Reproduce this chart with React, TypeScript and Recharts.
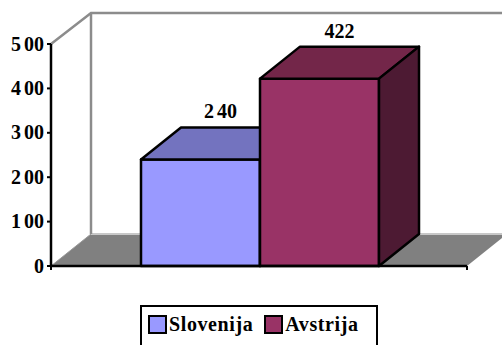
import { Bar, BarChart, LabelList, Legend, XAxis, YAxis } from "recharts"

const categories = [""];
const seriesNames = ["Slovenija", "Avstrija"];
const sloveniaValues = [240];
const austriaValues = [422];
const yTicks = [0, 100, 200, 300, 400, 500];

const frontColors = ["#9999ff", "#993366"];
const topColors = ["#7373bf", "#732649"];
const sideColors = ["#4d4d80", "#4d1a33"];

const rows = categories.map((name, i) => ({
  name,
  [seriesNames[0]]: sloveniaValues[i],
  [seriesNames[1]]: austriaValues[i],
}));

const DEPTH_X = 40;
const DEPTH_Y = 32;
const FONT = '"Liberation Serif", "Times New Roman", serif';

// left / right edges of the plot and its floor line
const LEFT = 51;
const RIGHT = 467;
const TOP = 44;
const BOTTOM = 266;
const LEGEND_HEIGHT = 46;
const LINE = 2.5;

// the back wall and the floor of the 3d box
const Backdrop = () => (
  <g>
    <polygon
      points={`${LEFT},${BOTTOM} ${LEFT + DEPTH_X},${BOTTOM - DEPTH_Y} ${RIGHT + DEPTH_X},${BOTTOM - DEPTH_Y} ${RIGHT},${BOTTOM}`}
      fill="#808080"
    />
    <line x1={LEFT + DEPTH_X} y1={BOTTOM - DEPTH_Y} x2={RIGHT + DEPTH_X} y2={BOTTOM - DEPTH_Y} stroke="#c8c8c8" strokeWidth={2} />
    <line x1={LEFT} y1={BOTTOM} x2={LEFT + DEPTH_X} y2={BOTTOM - DEPTH_Y} stroke="#999999" strokeWidth={1} />
    <polyline
      points={`${LEFT},${TOP} ${LEFT + DEPTH_X},${TOP - DEPTH_Y + 1} ${RIGHT + DEPTH_X},${TOP - DEPTH_Y + 1}`}
      fill="none"
      stroke="#8c8c8c"
      strokeWidth={2.5}
    />
    <line x1={LEFT + DEPTH_X} y1={TOP - DEPTH_Y + 1} x2={LEFT + DEPTH_X} y2={BOTTOM - DEPTH_Y} stroke="#8c8c8c" strokeWidth={2.5} />
    {/* end ticks of the category axis */}
    <line x1={RIGHT} y1={BOTTOM} x2={RIGHT} y2={BOTTOM + 4} stroke="#000" strokeWidth={2} />
    <line x1={LEFT} y1={BOTTOM} x2={LEFT} y2={BOTTOM + 4} stroke="#000" strokeWidth={2} />
  </g>
);

const Box = (props: any, index: number) => {
  const { x, y, width, height } = props;
  const right = x + width;
  const bottom = y + height;
  const edge = { stroke: "#000", strokeWidth: LINE, strokeLinejoin: "round" as const };
  return (
    <g>
      <rect x={x} y={y} width={width} height={height} fill={frontColors[index]} {...edge} />
      <polygon
        points={`${x},${y} ${x + DEPTH_X},${y - DEPTH_Y} ${right + DEPTH_X},${y - DEPTH_Y} ${right},${y}`}
        fill={topColors[index]}
        {...edge}
      />
      <polygon
        points={`${right},${y} ${right + DEPTH_X},${y - DEPTH_Y} ${right + DEPTH_X},${bottom - DEPTH_Y} ${right},${bottom}`}
        fill={sideColors[index]}
        {...edge}
      />
    </g>
  );
};

// value above the top face of the box, shifted by half the depth
const BoxLabel = (props: any) => {
  const { x, y, width, value } = props;
  const text = String(value);
  return (
    <text
      x={x + width / 2 + DEPTH_X / 2}
      y={y - DEPTH_Y - 9}
      textAnchor="middle"
      fontFamily={FONT}
      fontWeight="bold"
      fontSize={20}
    >
      {value === 240 ? (
        <>
          <tspan>{text[0]}</tspan>
          <tspan dx={3}>{text.slice(1)}</tspan>
        </>
      ) : (
        text
      )}
    </text>
  );
};

const ValueTick = (props: any) => {
  const { x, y, payload } = props;
  const text = String(payload.value);
  return (
    <text x={x - 1} y={y + 6.5} textAnchor="end" fontFamily={FONT} fontWeight="bold" fontSize={20} fill="#000">
      <tspan>{text[0]}</tspan>
      {text.length > 1 && <tspan dx={3}>{text.slice(1)}</tspan>}
    </text>
  );
};

const LegendBox = ({ payload }: any) => (
  <div
    style={{
      boxSizing: "border-box",
      width: 238,
      height: LEGEND_HEIGHT,
      border: "2px solid #000",
      background: "#fff",
      display: "flex",
      paddingLeft: 6,
      paddingTop: 8,
      fontFamily: FONT,
      fontWeight: "bold",
      fontSize: 20,
      letterSpacing: 0.6,
      lineHeight: "19px",
    }}
  >
    {(payload || []).map((item: any, i: number) => (
      <div key={item.value} style={{ display: "flex", marginRight: i === 0 ? 11 : 0 }}>
        <span
          style={{
            boxSizing: "border-box",
            width: 19,
            height: 19,
            border: "2.5px solid #000",
            background: item.color,
            marginRight: 2,
          }}
        />
        {item.value}
      </div>
    ))}
  </div>
);

export default function App() {
  return (
    <div style={{ position: "absolute", left: 0, top: 0, width: 502, height: 345, overflow: "hidden", background: "#fff" }}>
      <BarChart
        width={502}
        height={345}
        data={rows}
        margin={{ top: TOP, right: 502 - RIGHT, bottom: 345 - BOTTOM - LEGEND_HEIGHT - 1, left: 0 }}
        barGap={0}
        barSize={119}
      >
        <Backdrop />
        <XAxis
          dataKey="name"
          height={1}
          tick={false}
          tickLine={false}
          padding={{ left: 1, right: 0 }}
          axisLine={{ stroke: "#000", strokeWidth: LINE }}
        />
        <YAxis
          width={LEFT}
          domain={[0, 500]}
          ticks={yTicks}
          tick={<ValueTick />}
          tickSize={4}
          tickMargin={2}
          tickLine={{ stroke: "#000", strokeWidth: 2 }}
          axisLine={{ stroke: "#000", strokeWidth: LINE }}
        />
        <Legend
          content={<LegendBox />}
          itemSorter={null}
          wrapperStyle={{ position: "absolute", left: 140, top: 305, width: 238, bottom: "auto" }}
        />
        <Bar dataKey={seriesNames[0]} fill={frontColors[0]} isAnimationActive={false} shape={(p: any) => Box(p, 0)}>
          <LabelList dataKey={seriesNames[0]} content={<BoxLabel />} />
        </Bar>
        <Bar dataKey={seriesNames[1]} fill={frontColors[1]} isAnimationActive={false} shape={(p: any) => Box(p, 1)}>
          <LabelList dataKey={seriesNames[1]} content={<BoxLabel />} />
        </Bar>
      </BarChart>
    </div>
  );
}
